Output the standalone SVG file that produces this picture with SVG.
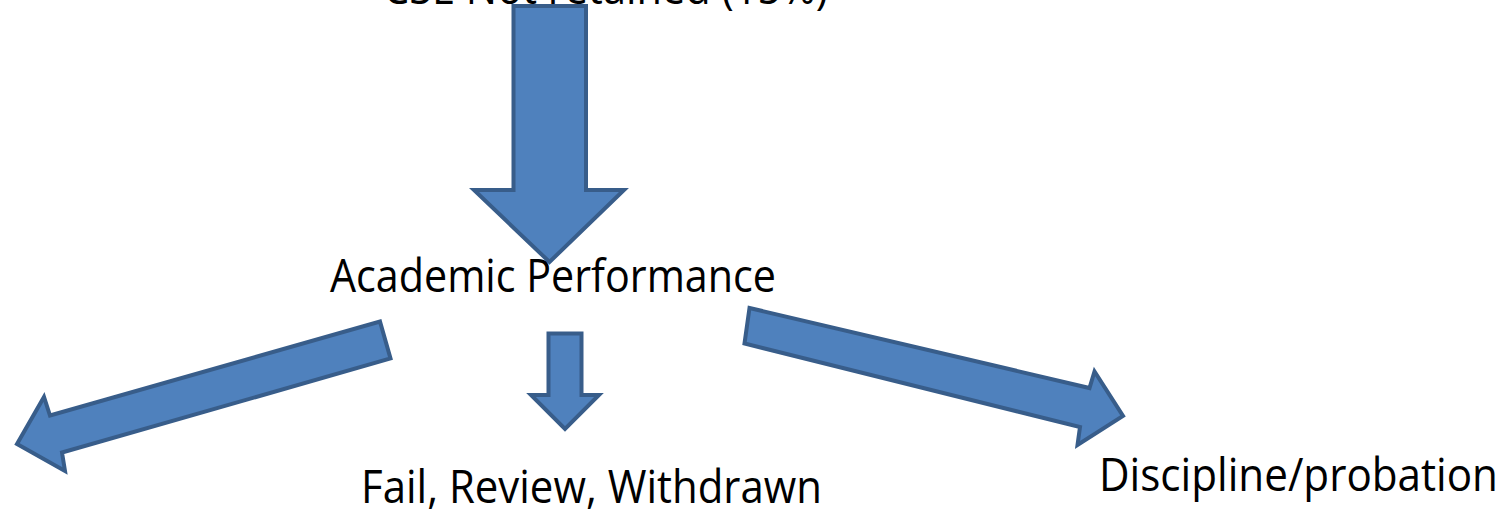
<svg xmlns="http://www.w3.org/2000/svg" width="1512" height="509" viewBox="0 0 1512 509">
  <style>
    .label { font-family: "Open Sans", "Noto Sans", "Liberation Sans", sans-serif; font-size: 45px; fill: #000000; }
    .block { fill: #4F81BD; stroke: #385D8A; stroke-width: 4; stroke-linejoin: miter; }
  </style>
  <rect width="1512" height="509" fill="#FFFFFF"/>

  <!-- block arrows between the labels -->
  <g id="connectors">
    <path class="block" d="M513.5,6 H586 V190 H624 L549.5,262 L474,190 H513.5 Z"/>
    <path class="block" d="M548.5,333.5 H581.5 V395 H599 L565,429 L531,395 H548.5 Z"/>
    <path class="block" d="M380,321.5 L390.5,358.5 L62,452.5 L65,471 L17,444 L44,397 L50,415.5 Z"/>
    <path class="block" d="M749.5,308 L744.5,343.5 L1080,427 L1077.5,445 L1123,416 L1094.5,371.5 L1089.5,388 Z"/>
  </g>

  <g id="node-not-retained">
    <text class="label" x="383" y="4" textLength="445" lengthAdjust="spacingAndGlyphs">CSE Not retained (15%)</text>
  </g>
  <g id="node-academic">
    <text class="label" x="330" y="292" textLength="446" lengthAdjust="spacingAndGlyphs">Academic Performance</text>
  </g>
  <g id="node-fail">
    <text class="label" x="361" y="503" textLength="461" lengthAdjust="spacingAndGlyphs">Fail, Review, Withdrawn</text>
  </g>
  <g id="node-discipline">
    <text class="label" x="1099" y="491" textLength="399" lengthAdjust="spacingAndGlyphs">Discipline/probation</text>
  </g>
</svg>
